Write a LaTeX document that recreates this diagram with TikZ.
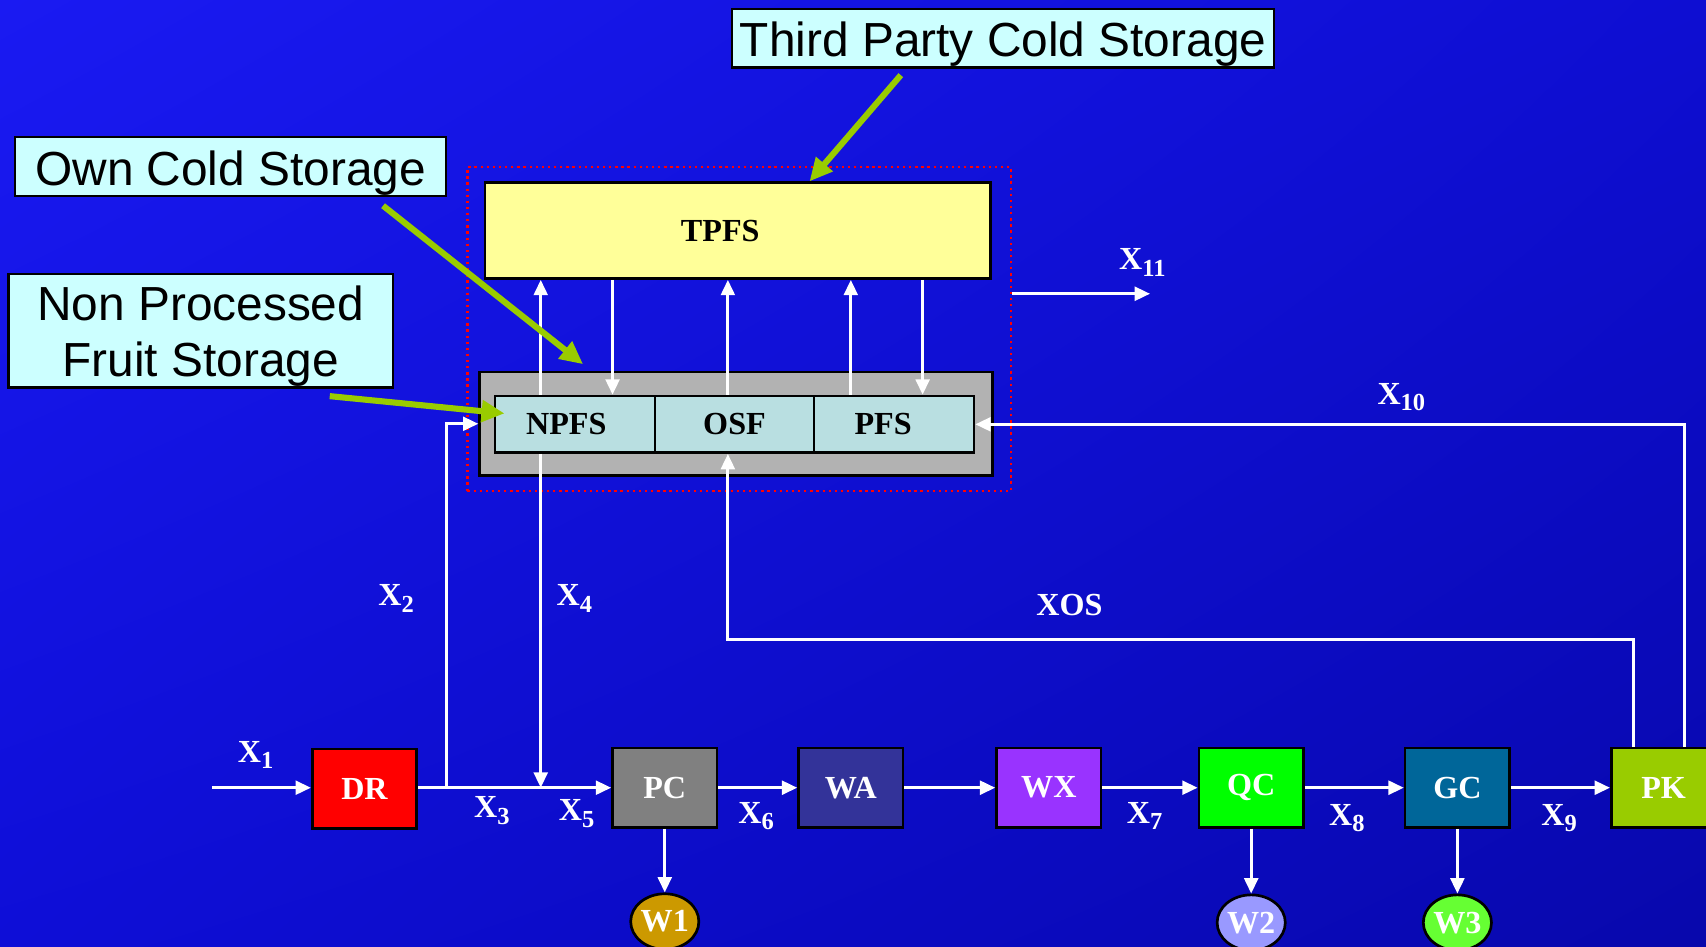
\documentclass[tikz,border=0pt]{standalone}
\usepackage{fontspec}
\setmainfont{Liberation Serif}
\newfontfamily\calloutfont{Liberation Sans}
\usepackage{tikz}
\usetikzlibrary{positioning, shapes.geometric, arrows.meta, calc, fit, shadings}

\definecolor{bgtl}{RGB}{26,26,242}
\definecolor{bgtr}{RGB}{14,14,210}
\definecolor{bgbl}{RGB}{14,14,215}
\definecolor{bgbr}{RGB}{8,8,172}
\definecolor{calloutfill}{HTML}{CCFFFF}
\definecolor{tpfsfill}{HTML}{FFFF99}
\definecolor{storegray}{HTML}{B2B2B2}
\definecolor{cellfill}{HTML}{B9DFE1}
\definecolor{drred}{HTML}{FF0000}
\definecolor{pcgray}{HTML}{808080}
\definecolor{waslate}{HTML}{333399}
\definecolor{wxpurple}{HTML}{9933FF}
\definecolor{qcgreen}{HTML}{00FF00}
\definecolor{gcteal}{HTML}{006699}
\definecolor{pkolive}{HTML}{99CC00}
\definecolor{wone}{HTML}{CC9900}
\definecolor{wtwo}{HTML}{9999FF}
\definecolor{wthree}{HTML}{66FF33}
\definecolor{pointergreen}{HTML}{99CC00}

\newcommand{\flowvar}[1]{X\raisebox{-0.45ex}{\fontsize{6.4}{7}\selectfont #1}}
\newcommand{\lowered}[1]{\raisebox{-0.06cm}[\height][\depth]{#1}}

\begin{document}
\begin{tikzpicture}[x=0.01cm, y=-0.01cm,
                unit/.style={draw=black, line width=0.7pt, rectangle, minimum width=0.96cm, minimum height=0.73cm, inner sep=0pt, text=white, font=\fontsize{8.4}{10}\selectfont\bfseries},
                cell/.style={draw=black, line width=0.7pt, fill=cellfill, rectangle, minimum width=1.46cm, minimum height=0.52cm, inner sep=0pt, font=\fontsize{8.4}{10}\selectfont\bfseries},
                callout/.style={draw=black, line width=0.6pt, fill=calloutfill, rectangle, inner sep=0pt, align=center, font=\calloutfont\fontsize{12.5}{14.8}\selectfont},
                waste/.style={draw=black, line width=0.7pt, ellipse, minimum width=0.62cm, minimum height=0.51cm, inner sep=0pt, text=white, font=\fontsize{8.4}{10}\selectfont\bfseries},
                flow/.style={draw=white, line width=0.75pt, -{Triangle[length=4pt, width=3.6pt]}},
                pointer/.style={draw=pointergreen, line width=1.6pt, -{Triangle[length=6pt, width=5.5pt]}},
                flowlabel/.style={text=white, inner sep=0pt, font=\fontsize{8.4}{10}\selectfont\bfseries},
                frame/.style={draw=red, densely dotted, line width=0.6pt, inner sep=0.13cm}
            ]

            % Hintergrund
            \useasboundingbox (0,0) rectangle (1568,870);
            \clip (0,0) rectangle (1568,870);
            \shade[upper left=bgtl, upper right=bgtr, lower left=bgbl, lower right=bgbr] (0,0) rectangle (1568,870);

            % Lager
            \node[draw=black, line width=0.7pt, fill=tpfsfill, minimum width=4.64cm, minimum height=0.88cm, font=\fontsize{8.4}{10}\selectfont\bfseries] (tpfs) at (678,212) {TPFS\hspace*{0.32cm}};
            \node[draw=black, line width=0.7pt, fill=storegray, minimum width=4.71cm, minimum height=0.95cm] (store) at (676.5,389.5) {};
            \node[cell, minimum width=1.47cm] (npfs) at (528.5,390) {NPFS\hspace*{0.16cm}};
            \node[cell, right=-0.7pt of npfs] (osf) {OSF};
            \node[cell, right=-0.7pt of osf, minimum width=1.47cm] (pfs) {PFS\hspace*{0.2cm}};
            \node[frame, fit=(tpfs)(store), xshift=0.03cm] (cold) {};

            % Prozesskette
            \node[unit, fill=drred] (dr) at (335,725) {DR};
            \node[unit, fill=pcgray] (pc) at (611,724) {PC};
            \node[unit, fill=waslate] (wa) at (782,724) {WA};
            \node[unit, fill=wxpurple] (wx) at (964,724) {WX};
            \node[unit, fill=qcgreen] (qc) at (1150,724) {QC};
            \node[unit, fill=gcteal] (gc) at (1339.5,724) {GC};
            \node[unit, fill=pkolive] (pk) at (1529,724) {PK};

            \node[waste, fill=wone] (w1) at (611,847) {W1};
            \node[waste, fill=wtwo] (w2) at (1150,848) {W2};
            \node[waste, fill=wthree] (w3) at (1339.5,848) {W3};

            % Hinweise
            \node[callout, minimum width=4.98cm, minimum height=0.54cm] (thirdparty) at (922,35) {\lowered{Third Party Cold Storage}};
            \node[callout, minimum width=3.96cm, minimum height=0.54cm] (owncold) at (212,153) {\lowered{Own Cold Storage}};
            \node[callout, minimum width=3.53cm, minimum height=1.02cm] (nonproc) at (184.5,304) {\lowered{\begin{tabular}{@{}c@{}}Non Processed\\Fruit Storage\end{tabular}}};

            % Hilfspunkte
            \coordinate (feed) at (195,724);
            \coordinate (split) at (410,724);
            \coordinate (join) at (497,724);
            \coordinate (laneB) at (563,0);
            \coordinate (laneC) at (669,0);
            \coordinate (laneD) at (782,0);
            \coordinate (laneE) at (848,0);
            \coordinate (xosbend) at (669,588);
            \coordinate (export) at (1057,270);

            % Kanten
            \draw[flow] (feed) -- (dr.west |- feed);
            \draw[flow] (dr.east |- split) -- (pc.west |- split);
            \draw[flow] (split) |- (store.west);
            \draw[flow] (npfs.south -| join) -- (join);
            \draw[flow] (pc) -- (wa);
            \draw[flow] (wa) -- (wx);
            \draw[flow] (wx) -- (qc);
            \draw[flow] (qc) -- (gc);
            \draw[flow] (gc) -- (pk);
            \draw[flow] (pc) -- (w1);
            \draw[flow] (qc) -- (w2);
            \draw[flow] (gc) -- (w3);

            \draw[flow] (npfs.north -| join) -- (tpfs.south -| join);
            \draw[flow] (tpfs.south -| laneB) -- (npfs.north -| laneB);
            \draw[flow] (osf.north -| laneC) -- (tpfs.south -| laneC);
            \draw[flow] (pfs.north -| laneD) -- (tpfs.south -| laneD);
            \draw[flow] (tpfs.south -| laneE) -- (pfs.north -| laneE);

            \draw[flow] ([xshift=-0.28cm]pk.north) |- (xosbend) -- (osf.south -| xosbend);
            \draw[flow] ([xshift=0.19cm]pk.north) |- (pfs.east);
            \draw[flow] (cold.east |- export) -- (export);

            % Beschriftungen
            \node[flowlabel] (lx1) at (235,694) {\flowvar{1}};
            \node[flowlabel] (lx2) at (364,550) {\flowvar{2}};
            \node[flowlabel] (lx3) at (452,745) {\flowvar{3}};
            \node[flowlabel] (lx4) at (528,550) {\flowvar{4}};
            \node[flowlabel] (lx5) at (530,748) {\flowvar{5}};
            \node[flowlabel] (lx6) at (695,750) {\flowvar{6}};
            \node[flowlabel] (lx7) at (1052,750) {\flowvar{7}};
            \node[flowlabel] (lx8) at (1238,752) {\flowvar{8}};
            \node[flowlabel] (lx9) at (1433,752) {\flowvar{9}};
            \node[flowlabel] (lx10) at (1288,365) {\flowvar{10}};
            \node[flowlabel] (lx11) at (1050,241) {\flowvar{11}};
            \node[flowlabel] (lxos) at (983,556) {XOS};

            % Zeiger
            \draw[pointer] ([xshift=-0.94cm, yshift=-0.06cm]thirdparty.south) -- ([xshift=0.66cm]tpfs.north);
            \draw[pointer] ([xshift=1.4cm, yshift=-0.08cm]owncold.south) -- ([xshift=-1.405cm, yshift=0.06cm]store.north);
            \draw[pointer] ([xshift=1.185cm, yshift=-0.07cm]nonproc.south) -- ([xshift=0.1cm, yshift=0.1cm]npfs.west);

        \end{tikzpicture}
\end{document}
